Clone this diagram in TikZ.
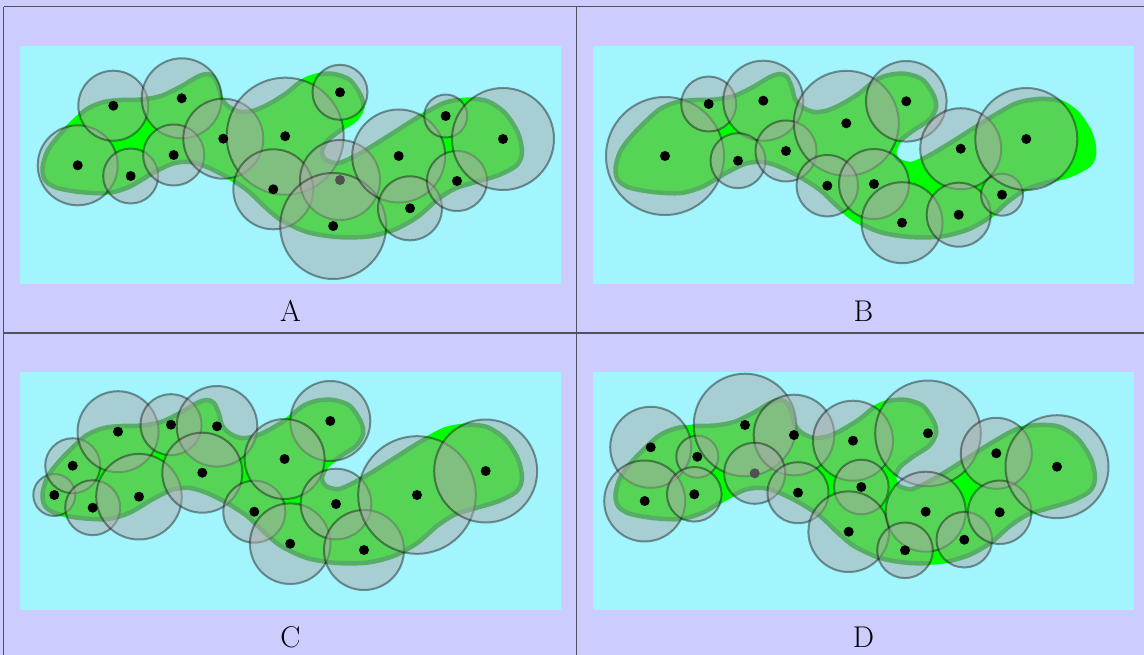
\documentclass[tikz,border=0pt]{standalone}
\usepackage{fontspec}
\definecolor{lav}{RGB}{204,204,255}
\definecolor{cyanbg}{RGB}{163,245,253}
\definecolor{brightg}{RGB}{0,255,0}
\definecolor{bandg}{RGB}{0,178,30}
\definecolor{gridc}{RGB}{80,80,95}
\definecolor{dotgray}{RGB}{80,80,80}
\tikzset{
  blobshape/.style={insert path={plot[smooth cycle, tension=0.5] coordinates {
    (42.5,168) (47,152) (56,139) (70,124) (87,109) (104,102) (122,100) (142,99.5)
    (161,96) (180,87) (197,77) (207,74) (214,77) (219,88) (222,99) (229,107)
    (241,112) (254,110.5) (268,104.5) (286,93.5) (303,80) (318,74.5) (334,74)
    (350,80) (361,96) (363,108) (356,120) (341,130) (327,141) (322,152) (326,160)
    (339,163) (357,155) (374,145) (393,133) (420,116) (444,103) (466,99) (487,101)
    (505,113) (518,133) (522,152) (517,165) (499,175) (476,182) (455,188.5)
    (437,200) (418,216.5) (395,229.5) (368,236.5) (337,237) (307,232) (281,220)
    (264,206) (247,190) (227,177) (207,167) (190,162) (173,163.5) (153,173)
    (130,186.5) (108,193) (80,192) (56,187.5) (45,180)}}},
  diskfill/.style={fill=black!33, fill opacity=0.5},
  diskline/.style={draw=black, draw opacity=0.4, line width=2},
  gridline/.style={draw=gridc, line width=1.3},
  panellabel/.style={anchor=base, font=\fontsize{30}{36}\selectfont}
}
\newcommand\drawpanel[3]{%
  \fill[cyanbg] ({20+#1},{45.7+#2}) rectangle ({561+#1},{284+#2});
  \begin{scope}[shift={(#1,#2)}]
    \fill[brightg, blobshape];
    \draw[brightg, line width=3, blobshape];
  \end{scope}
  \begin{scope}
    \clip \foreach \x/\y/\r/\c in {#3} {(\x,\y) circle (\r)};
    \fill[cyanbg] ({20+#1},{45.7+#2}) rectangle ({561+#1},{284+#2});
    \begin{scope}[shift={(#1,#2)}]
      \fill[brightg, blobshape];
      \draw[bandg, line width=4.5, blobshape];
    \end{scope}
  \end{scope}
  \foreach \x/\y/\r/\c in {#3} {
    \path[diskfill] (\x,\y) circle (\r);
    \path[diskline] (\x,\y) circle (\r);
  }
  \foreach \x/\y/\r/\c in {#3} { \fill[\c] (\x,\y) circle (5); }
}
\begin{document}
\begin{tikzpicture}[x=1pt, y=-1pt]
\useasboundingbox (0,0) rectangle (1144,655);
\fill[lav] (0,0) rectangle (1144,655);
% Panel A
\drawpanel{0}{0}{77.7/165.3/40/black, 113.3/105.7/35/black, 181.7/98.3/40/black,
  130.7/176/27.5/black, 173.7/155/30.5/black, 223.3/138.7/40/black,
  285.2/136.2/58.5/black, 273.3/189.3/40/black, 340/180/40/dotgray,
  333.2/226/53/black, 340/92.3/27.5/black, 398.7/156/46.5/black,
  410/208.3/32/black, 445.7/116/21.5/black, 457/181/30/black, 503/139/51/black}
% Panel B
\drawpanel{573}{0}{665/156/59/black, 708.7/104/27.5/black, 763.3/100.7/40/black,
  738/160.7/27.5/black, 786/151/30.5/black, 846.3/123.3/52.5/black,
  827.3/185.7/30.7/black, 874/184/35/black, 906.3/101.3/40.3/black,
  902/222.7/40.5/black, 960.7/148.7/40.5/black, 958.7/214.7/32/black,
  1002/194.7/21/black, 1026.3/139/51/black}
% Panel C
\drawpanel{0}{326}{54.3/495/21/black, 72.7/465.7/27.5/black, 92.7/507.7/27.5/black,
  118/431.7/40.5/black, 139/496.7/42.8/black, 171/424.7/30.5/black,
  217/426.3/40.3/black, 202.3/472.7/40/black, 254.3/511.7/31/black,
  330.3/421/40/black, 284.6/459/40/black, 290.2/543.7/40.3/black,
  336/504/35.3/black, 364/550/40/black, 417/495/58.8/black, 485.7/471/51.5/black}
% Panel D
\drawpanel{573}{326}{650.7/447.3/40.5/black, 644.7/501/40.5/black, 697.3/456.7/21/black,
  694.3/494.3/27.3/black, 745/425/51.3/black, 794/435/40.3/black,
  754.7/473.3/30.5/dotgray, 798/492.7/30.5/black, 853/440.7/40/black,
  861.3/487/27.3/black, 848.7/531.7/40.3/black, 928/433.3/52.8/black,
  925.7/511.7/40/black, 905/550.3/27.8/black, 964.3/539.7/27.8/black,
  996.3/453.3/35.5/black, 999.7/512.3/31.7/black, 1057/466.7/51.5/black}
% grid
\draw[gridline] (3.7,6.7) -- (1170,6.7);
\draw[gridline] (3.7,333) -- (1170,333);
\draw[gridline] (3.7,6.7) -- (3.7,680);
\draw[gridline] (576.6,6.7) -- (576.6,680);
% labels
\node[panellabel] (la) at (290.4,321.7) {A};
\node[panellabel] (lb) at (863.4,321.7) {B};
\node[panellabel] (lc) at (290.4,647.7) {C};
\node[panellabel] (ld) at (863.4,647.7) {D};
\end{tikzpicture}
\end{document}
